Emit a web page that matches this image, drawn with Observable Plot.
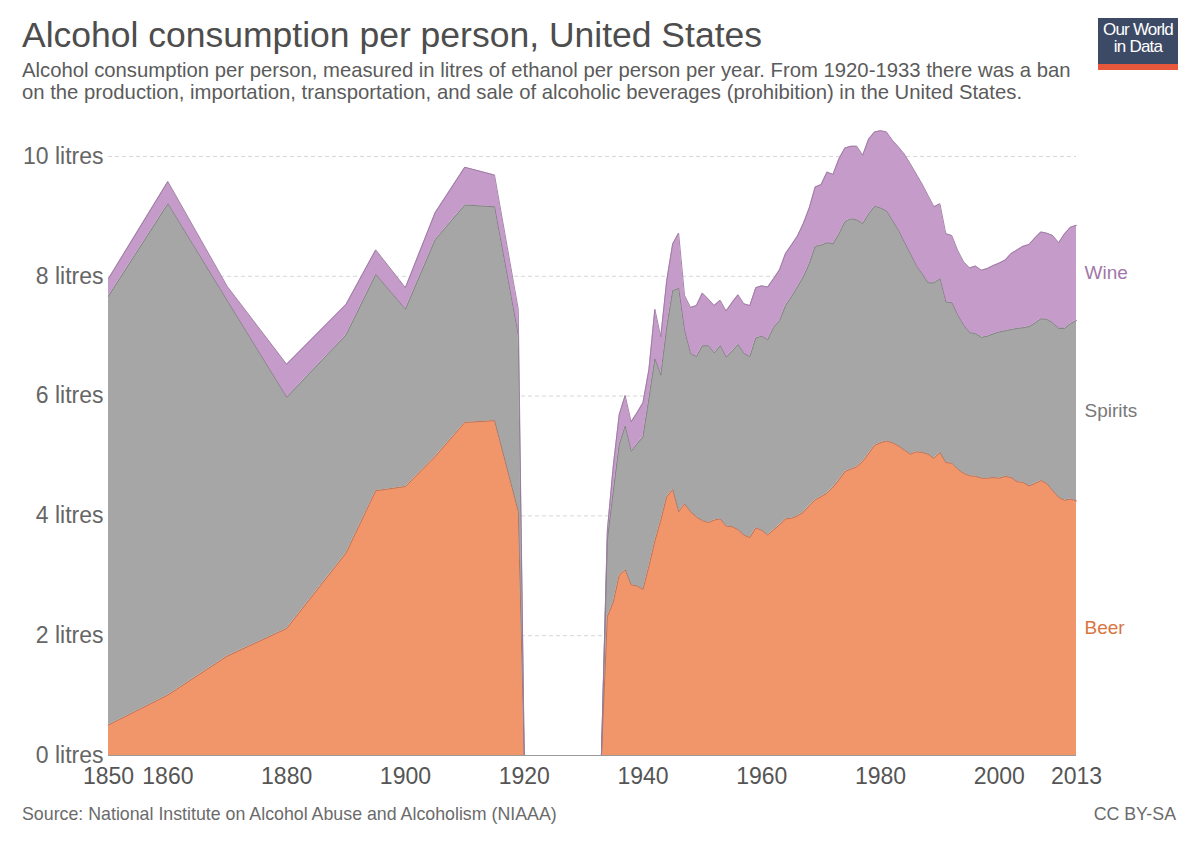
<!DOCTYPE html>
<html>
<head>
<meta charset="utf-8">
<script src="https://cdn.jsdelivr.net/npm/d3@7"></script>
<script src="https://cdn.jsdelivr.net/npm/@observablehq/plot@0.6"></script>
<style>
  html, body { margin: 0; padding: 0; background: #fff; }
  body { width: 1200px; height: 847px; position: relative; overflow: hidden; font-family: "Liberation Sans", Arial, sans-serif; }
  #title { position: absolute; left: 22px; top: 15px; font-size: 35.5px; color: #4d4d4d; white-space: nowrap; }
  #subtitle { position: absolute; left: 22px; top: 59px; font-size: 20.3px; line-height: 22px; color: #5b5b5b; width: 1070px; }
  #logo { position: absolute; left: 1098px; top: 18px; width: 80px; height: 52px; background: #3d4a66; color: #fff; text-align: center; font-size: 17px; line-height: 17px; letter-spacing: -0.8px; }
  #logo .txt { padding-top: 3px; }
  #logo .bar { position: absolute; left: 0; bottom: 0; width: 100%; height: 6px; background: #e6573b; }
  #chart { position: absolute; left: 0; top: 110px; }
  #source { position: absolute; left: 22px; top: 804px; font-size: 17.8px; color: #6b6b6b; }
  #license { position: absolute; right: 24px; top: 804px; font-size: 17.8px; color: #6b6b6b; }
</style>
</head>
<body>
<div id="title">Alcohol consumption per person, United States</div>
<div id="subtitle">Alcohol consumption per person, measured in litres of ethanol per person per year. From 1920-1933 there was a ban on the production, importation, transportation, and sale of alcoholic beverages (prohibition) in the United States.</div>
<div id="logo"><div class="txt">Our World<br>in Data</div><div class="bar"></div></div>
<div id="chart"></div>
<div id="source">Source: National Institute on Alcohol Abuse and Alcoholism (NIAAA)</div>
<div id="license">CC BY-SA</div>
<script>
// Data (litres of ethanol per person per year)
const years = [1850,1860,1870,1880,1890,1895,1900,1905,1910,1915,1919,1920,1933,
  1934,1935,1936,1937,1938,1939,1940,1941,1942,1943,1944,1945,1946,1947,1948,1949,
  1950,1951,1952,1953,1954,1955,1956,1957,1958,1959,1960,1961,1962,1963,1964,1965,
  1966,1967,1968,1969,1970,1971,1972,1973,1974,1975,1976,1977,1978,1979,1980,1981,
  1982,1983,1984,1985,1986,1987,1988,1989,1990,1991,1992,1993,1994,1995,1996,1997,
  1998,1999,2000,2001,2002,2003,2004,2005,2006,2007,2008,2009,2010,2011,2012,2013];
const beer = [0.51,1.01,1.66,2.12,3.38,4.42,4.49,4.99,5.56,5.59,4.07,0,0,
  2.32,2.56,3.01,3.10,2.85,2.83,2.77,3.16,3.58,3.93,4.32,4.44,4.07,4.20,4.07,3.98,
  3.92,3.89,3.93,3.95,3.83,3.82,3.77,3.68,3.64,3.80,3.76,3.68,3.77,3.85,3.95,3.96,
  4.00,4.06,4.17,4.27,4.32,4.38,4.48,4.60,4.74,4.78,4.82,4.91,5.04,5.18,5.22,5.25,
  5.22,5.17,5.10,5.03,5.07,5.06,5.03,4.96,5.06,4.89,4.88,4.78,4.71,4.67,4.66,4.63,
  4.63,4.64,4.63,4.66,4.64,4.57,4.56,4.50,4.54,4.59,4.54,4.42,4.31,4.26,4.28,4.25];
const spirits = [7.16,8.20,5.93,3.86,3.64,3.61,2.96,3.62,3.63,3.57,2.94,0,0,
  1.28,1.85,2.18,2.40,2.23,2.37,2.55,2.80,3.04,2.42,2.83,3.32,3.73,2.89,2.64,2.68,
  2.92,2.95,2.79,2.89,2.82,2.93,3.09,3.03,3.02,3.17,3.24,3.26,3.38,3.41,3.56,3.70,
  3.82,3.93,4.04,4.23,4.20,4.18,4.06,4.11,4.17,4.18,4.12,3.97,4.00,3.99,3.92,3.84,
  3.71,3.60,3.47,3.35,3.11,2.98,2.86,2.93,2.90,2.68,2.68,2.57,2.47,2.39,2.38,2.35,
  2.37,2.40,2.44,2.43,2.47,2.56,2.58,2.66,2.68,2.70,2.74,2.80,2.82,2.87,2.93,3.01];
const wine = [0.29,0.37,0.24,0.55,0.51,0.41,0.36,0.45,0.63,0.53,0.44,0,0,
  0.15,0.42,0.50,0.51,0.49,0.52,0.57,0.48,0.83,0.64,0.78,0.78,0.92,0.59,0.77,0.85,
  0.88,0.78,0.79,0.76,0.77,0.81,0.83,0.83,0.85,0.84,0.84,0.88,0.81,0.85,0.87,0.86,
  0.85,0.89,0.93,0.99,1.01,1.18,1.16,1.25,1.23,1.21,1.23,1.14,1.25,1.24,1.29,1.32,
  1.34,1.39,1.47,1.50,1.53,1.50,1.46,1.27,1.25,1.14,1.12,1.08,1.06,1.08,1.13,1.12,
  1.13,1.14,1.15,1.18,1.27,1.31,1.36,1.37,1.42,1.45,1.44,1.46,1.43,1.58,1.61,1.59];
const types = ["Beer", "Spirits", "Wine"];
const fills = ["#f1956a", "#a6a6a6", "#c59bc9"];
const strokes = ["#b3705a", "#7f7f80", "#9b789f"];
const labelColors = ["#d9743f", "#787878", "#a277a8"];
const xTicks = [1850,1860,1880,1900,1920,1940,1960,1980,2000,2013];
const yTicks = [0,2,4,6,8,10];

const series = {Beer: beer, Spirits: spirits, Wine: wine};
const data = [];
types.forEach(t => years.forEach((yr, i) => data.push({year: yr, type: t, value: series[t][i]})));

// label positions: mid of each band at last year
const last = years.length - 1;
let base = 0;
const labels = types.map((t, k) => {
  const v = series[t][last];
  const mid = base + v / 2;
  base += v;
  return {type: t, year: years[last], mid, color: labelColors[k]};
});

const chart = Plot.plot({
  width: 1200,
  height: 690,
  marginLeft: 108,
  marginRight: 124,
  marginTop: 16,
  marginBottom: 45,
  style: {fontFamily: "'Liberation Sans', Arial, sans-serif", background: "transparent"},
  x: {domain: [1850, 2013], axis: null},
  y: {domain: [0, 10.5], axis: null},
  color: {domain: types, range: fills},
  marks: [
    Plot.ruleY(yTicks.filter(d => d > 0), {stroke: "#d6d6d6", strokeDasharray: "4,3", strokeWidth: 1}),
    Plot.areaY(data, {x: "year", y: "value", fill: "type", z: "type", order: types, curve: "linear"}),
    Plot.lineY(data, Plot.stackY2({x: "year", y: "value", z: "type", order: types, stroke: d => strokes[types.indexOf(d.type)], strokeWidth: 0.9})),
    Plot.ruleY([0], {stroke: "#9a9a9a", strokeWidth: 1}),
    Plot.axisY({ticks: yTicks, tickFormat: d => `${d} litres`, tickSize: 0, tickPadding: 5, fontSize: 23, color: "#666", anchor: "left", label: null}),
    Plot.axisX({ticks: xTicks, tickFormat: d => String(d), tickSize: 0, tickPadding: 12, fontSize: 23, color: "#555", anchor: "bottom", label: null}),
    Plot.text(labels, {x: "year", y: "mid", text: "type", fill: "color", textAnchor: "start", dx: 8, fontSize: 19})
  ]
});
document.getElementById("chart").appendChild(chart);
</script>
</body>
</html>
